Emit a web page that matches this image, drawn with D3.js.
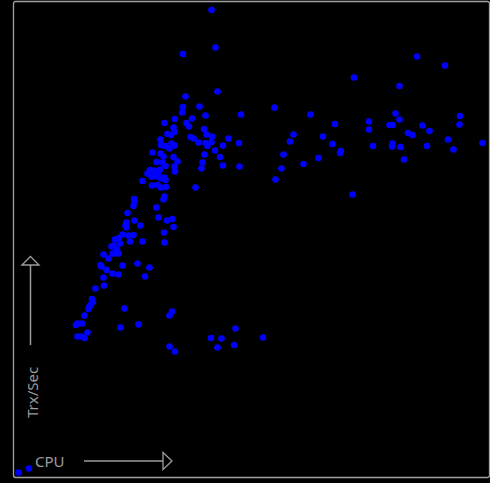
<!DOCTYPE html>
<html>
<head>
<meta charset="utf-8">
<script src="https://cdn.jsdelivr.net/npm/d3@7"></script>
<style>
  html, body { margin: 0; padding: 0; background: #000; }
  #chartDiv { width: 490px; height: 483px; }
  .axisLabel { font-family: "Noto Sans", "Open Sans", sans-serif; font-size: 15px; fill: #9c9c9c; }
</style>
</head>
<body>
<div id="chartDiv"></div>
<script>
// CPU (%) per sample
const cpu = [
  39.5, 40.3, 33.8, 40.7, 34.3, 37.1, 33.8, 33.6, 38.3, 45.4, 52.1, 59.3, 68.0, 80.6, 86.2, 77.1,
  64.2, 71.0, 71.0, 76.3, 77.1, 75.1, 75.7, 81.7, 83.1, 89.2, 89.1, 78.8, 79.7, 86.8, 93.7, 87.9,
  82.6, 77.3, 75.7, 75.6, 78.0, 71.8, 65.4, 65.2, 63.7, 61.8, 60.9, 57.9, 55.9, 55.2, 53.9, 53.5,
  52.3, 67.7,
  34.5, 35.0, 35.6, 35.3, 35.9, 36.9, 38.0, 38.5, 39.6, 38.3, 38.7, 39.5, 42.9, 45.0, 41.8, 40.2,
  41.2, 38.1, 37.7, 37.5, 41.8, 45.1, 36.3,
  30.1, 32.2, 31.9, 32.1, 30.7, 31.4, 29.3, 29.4, 30.2, 31.5, 32.1, 31.1, 27.7, 29.3, 29.9, 31.9,
  32.7, 32.1, 32.2, 28.5, 29.7, 30.3, 27.2, 28.0, 28.5, 29.2, 26.7, 27.5, 28.5, 29.4, 25.7, 27.6,
  28.7, 29.4, 30.4, 30.1, 30.3, 28.9,
  24.0, 24.1, 23.9, 30.1, 29.9, 28.5, 22.7, 24.1, 25.3, 22.5, 22.3, 22.5, 28.9, 30.6, 31.7, 31.9,
  30.0, 30.1, 25.7, 21.0, 21.7, 22.9, 23.9, 23.2, 20.2, 21.2, 19.9, 19.5, 20.6, 20.3, 20.9, 19.7,
  17.9, 18.9, 17.3, 17.5, 18.5, 19.7, 20.9, 21.7, 24.7, 27.1, 26.2, 17.9, 18.0, 16.3, 15.6, 15.8,
  15.3, 15.1, 14.9, 14.1, 13.6, 12.7, 12.4, 14.7, 12.7, 13.5, 14.1,
  22.1, 21.3, 24.9, 31.6, 31.1, 31.1, 32.2, 39.4, 41.5, 40.7, 44.3, 44.0, 49.8,
  0.9, 3.0
];

// Trx/Sec per sample
const trx = [
  934, 859, 846, 771, 761, 741, 740, 729, 723, 725, 739, 725, 799, 841, 823, 782,
  706, 711, 695, 727, 715, 704, 704, 703, 692, 722, 705, 688, 684, 675, 668, 655,
  662, 660, 667, 661, 635, 662, 652, 648, 666, 681, 638, 626, 685, 671, 645, 617,
  595, 565,
  708, 701, 717, 680, 677, 669, 696, 685, 681, 668, 662, 670, 677, 668, 663, 653,
  640, 645, 629, 617, 623, 621, 579,
  708, 716, 699, 690, 686, 684, 675, 664, 662, 667, 663, 657, 649, 647, 641, 640,
  631, 621, 611, 630, 629, 622, 614, 613, 611, 615, 607, 601, 601, 597, 592, 583,
  584, 579, 580, 599, 594, 607,
  556, 550, 542, 561, 555, 539, 528, 513, 503, 509, 503, 499, 519, 513, 516, 500,
  489, 469, 471, 478, 485, 483, 484, 471, 475, 467, 463, 461, 455, 447, 447, 447,
  445, 437, 424, 421, 414, 407, 405, 423, 427, 419, 401, 399, 383, 377, 356, 350,
  344, 341, 336, 323, 307, 307, 304, 289, 281, 281, 278,
  337, 299, 305, 331, 323, 261, 251, 278, 277, 259, 297, 264, 279,
  9, 17
];

const xLabel = "CPU";
const yLabel = "Trx/Sec";

let chartDiv = document.getElementById("chartDiv");
let width = 490;
let height = 483;

let svg = d3.select(chartDiv).append("svg")
    .attr("width", width)
    .attr("height", height);

svg.append("rect")
    .attr("width", width)
    .attr("height", height)
    .attr("fill", "#000");

const frame = { left: 13.5, top: 1.5, right: 489.5, bottom: 477.5 };

let x = d3.scaleLinear()
    .domain([0, 95])
    .range([14, 489]);

let y = d3.scaleLinear()
    .domain([0, 950])
    .range([477, 2]);

// border round the plot
svg.append("rect")
    .attr("x", frame.left)
    .attr("y", frame.top)
    .attr("width", frame.right - frame.left)
    .attr("height", frame.bottom - frame.top)
    .attr("rx", 2)
    .attr("fill", "none")
    .attr("stroke", "#a2a2a2")
    .attr("stroke-width", 1.3);

let clip = svg.append("clipPath").attr("id", "plotClip")
    .append("rect")
    .attr("x", frame.left + 1)
    .attr("y", frame.top + 1)
    .attr("width", frame.right - frame.left - 2)
    .attr("height", frame.bottom - frame.top - 2);

// axis hints: label + arrow
svg.append("text")
    .attr("class", "axisLabel")
    .attr("x", 35)
    .attr("y", 467)
    .text(xLabel);

svg.append("line")
    .attr("x1", 84).attr("x2", 163)
    .attr("y1", 461).attr("y2", 461)
    .attr("stroke", "#9c9c9c")
    .attr("stroke-width", 1.5);

svg.append("path")
    .attr("d", "M163,452.5 L172,461 L163,469.5 Z")
    .attr("fill", "none")
    .attr("stroke", "#9c9c9c")
    .attr("stroke-width", 1.3);

svg.append("text")
    .attr("class", "axisLabel")
    .attr("transform", "translate(38,418) rotate(-90)")
    .text(yLabel);

svg.append("line")
    .attr("x1", 30.5).attr("x2", 30.5)
    .attr("y1", 345).attr("y2", 265)
    .attr("stroke", "#9c9c9c")
    .attr("stroke-width", 1.5);

svg.append("path")
    .attr("d", "M22,265 L30.5,256.5 L39,265 Z")
    .attr("fill", "none")
    .attr("stroke", "#9c9c9c")
    .attr("stroke-width", 1.3);

// the samples
const points = cpu.map((c, i) => ({ cpu: c, trx: trx[i] }));

svg.append("g")
    .attr("clip-path", "url(#plotClip)")
    .selectAll("circle.dot")
    .data(points)
    .enter()
    .append("circle")
    .attr("class", "dot")
    .attr("cx", d => x(d.cpu))
    .attr("cy", d => y(d.trx))
    .attr("r", 3.3)
    .attr("fill", "#0000ff");
</script>
</body>
</html>
